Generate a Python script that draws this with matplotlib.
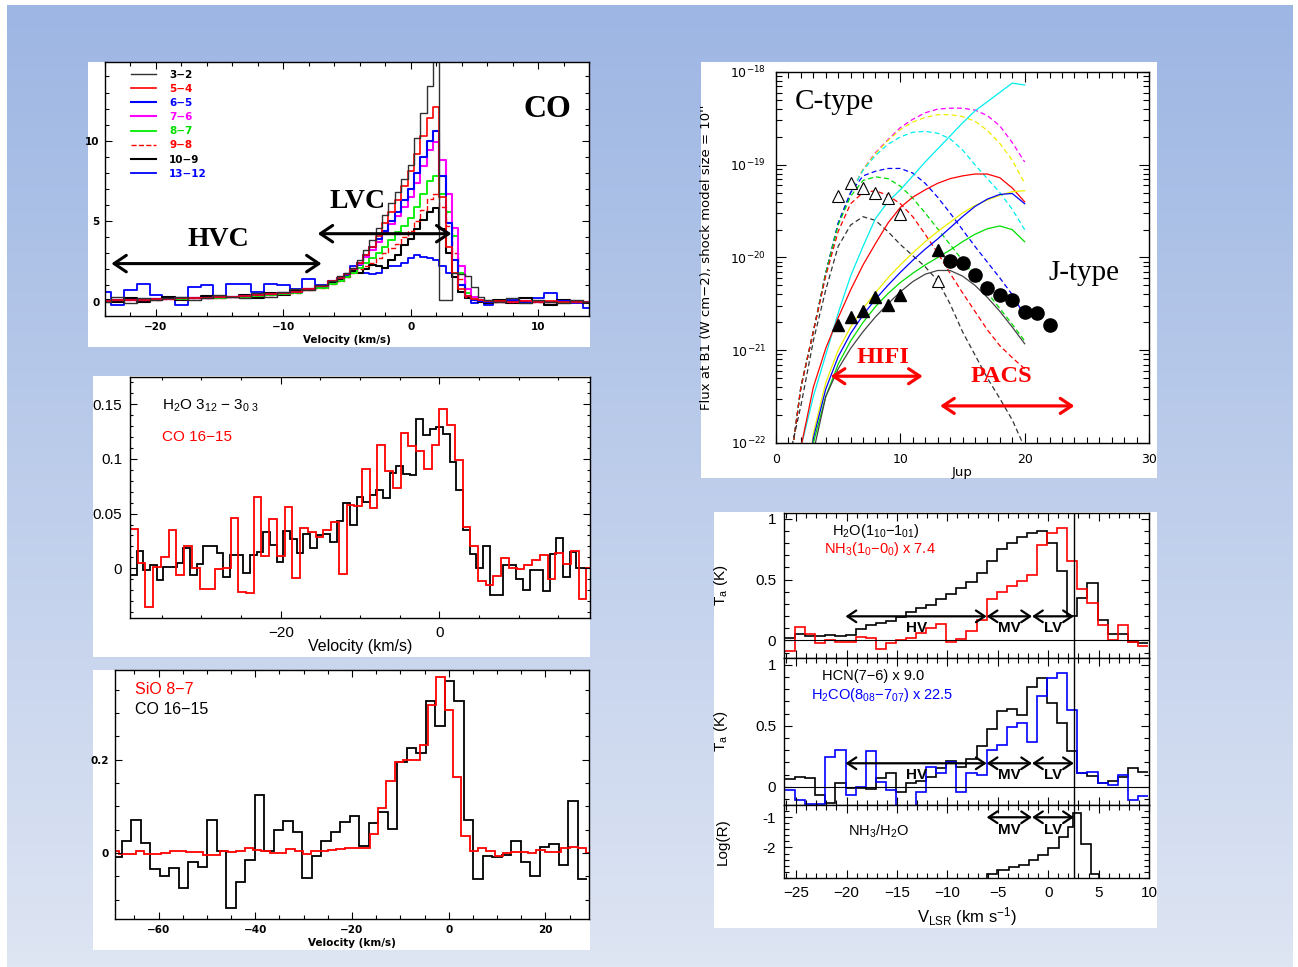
import numpy as np
import matplotlib.pyplot as plt
from matplotlib import ticker
from matplotlib.lines import Line2D

plt.rcParams['font.family'] = 'Liberation Sans'
plt.rcParams['mathtext.fontset'] = 'custom'
plt.rcParams['mathtext.rm'] = 'Liberation Sans'
plt.rcParams['mathtext.it'] = 'Liberation Sans:italic'
plt.rcParams['mathtext.bf'] = 'Liberation Sans:bold'
plt.rcParams['axes.linewidth'] = 1.0

W, H = 1298, 967

# ---------------- CO ladder (top left) ----------------
v_co = [-24, -23, -22, -21, -20, -19, -18, -17, -16, -15, -14, -13, -12, -11, -10, -9, -8, -7, -6,
        -5.5, -5, -4.5, -4, -3.5, -3, -2.5, -2, -1.5, -1, -0.5, 0, 0.5, 1, 1.5, 2, 2.5, 3, 3.5, 4, 4.5, 5, 5.5, 6,
        7, 8, 9, 10, 11, 12, 13, 14]
co_32 = [0.0, 0.3, -0.1, 0.2, 0.1, 0.2, 0.3, 0.1, 0.2, 0.4, 0.3, 0.2, 0.5, 0.3, 0.6, 0.8, 0.7, 1.0, 1.3,
         1.6, 1.8, 2.1, 2.6, 3.2, 3.8, 4.6, 5.4, 6.1, 6.8, 7.6, 8.5, 10.2, 11.7, 13.4, 16.0, 0.1, 0.1, 1.8, 1.7, 1.6, 0.9, 0.3, 0.1,
         0.0, 0.2, -0.1, 0.1, 0.0, -0.1, 0.1, 0.0]
co_54 = [0.05, 0.08, 0.1, 0.12, 0.15, 0.18, 0.2, 0.22, 0.25, 0.28, 0.3, 0.35, 0.4, 0.45, 0.5, 0.6, 0.75, 0.95, 1.25,
         1.45, 1.7, 2.0, 2.4, 2.9, 3.4, 4.1, 4.9, 5.6, 6.3, 7.2, 8.1, 9.2, 10.3, 11.4, 12.1, 6.5, 3.4, 1.8, 0.8, 0.35, 0.15, 0.1, 0.05,
         0.05, 0.0, 0.05, 0.0, 0.05, 0.0, 0.0, 0.0]
co_65 = [0.05, 0.08, 0.1, 0.12, 0.15, 0.18, 0.2, 0.22, 0.25, 0.28, 0.3, 0.35, 0.4, 0.45, 0.5, 0.6, 0.75, 0.95, 1.25,
         1.45, 1.7, 2.0, 2.4, 2.9, 3.4, 3.9, 4.4, 5.0, 5.6, 6.3, 7.0, 8.0, 9.0, 10.0, 10.6, 7.8, 4.9, 2.6, 1.0, 0.35, 0.1, 0.05, 0.0,
         0.0, 0.05, 0.0, -0.05, 0.0, 0.05, 0.0, 0.0]
co_76 = [0.05, 0.08, 0.1, 0.12, 0.15, 0.18, 0.2, 0.22, 0.25, 0.28, 0.3, 0.35, 0.4, 0.45, 0.5, 0.6, 0.75, 0.95, 1.25,
         1.45, 1.7, 2.0, 2.35, 2.8, 3.2, 3.7, 4.3, 4.8, 5.3, 5.9, 6.5, 7.4, 8.4, 9.4, 9.9, 8.8, 6.7, 4.6, 2.2, 0.8, 0.3, 0.1, 0.05,
         0.0, 0.0, 0.05, 0.0, 0.0, 0.05, 0.0, 0.0]
co_87 = [0.05, 0.07, 0.1, 0.1, 0.12, 0.15, 0.18, 0.2, 0.22, 0.25, 0.28, 0.3, 0.35, 0.4, 0.45, 0.55, 0.7, 0.85, 1.1,
         1.3, 1.5, 1.8, 2.1, 2.4, 2.7, 3.0, 3.4, 3.8, 4.3, 4.7, 5.2, 5.9, 6.7, 7.5, 7.8, 6.7, 5.6, 4.1, 1.8, 0.5, 0.2, 0.1, 0.05,
         0.0, 0.0, 0.0, 0.0, 0.0, 0.0, 0.0, 0.0]
co_98 = [0.05, 0.07, 0.1, 0.1, 0.12, 0.15, 0.18, 0.2, 0.22, 0.25, 0.28, 0.3, 0.35, 0.4, 0.45, 0.55, 0.7, 0.85, 1.1,
         1.3, 1.5, 1.75, 2.0, 2.2, 2.4, 2.7, 3.0, 3.3, 3.6, 4.0, 4.4, 5.0, 5.7, 6.4, 6.7, 5.9, 4.7, 3.0, 1.4, 0.3, 0.1, 0.05, 0.0,
         0.0, 0.0, 0.0, 0.0, 0.0, 0.0, 0.0, 0.0]
co_109 = [0.1, -0.05, 0.2, 0.0, 0.15, 0.3, 0.1, 0.2, 0.35, 0.2, 0.3, 0.4, 0.25, 0.5, 0.4, 0.7, 0.8, 0.9, 1.2,
          1.4, 1.5, 1.9, 1.8, 2.0, 2.3, 2.2, 2.1, 2.6, 2.9, 3.5, 3.9, 4.5, 5.1, 5.6, 5.8, 4.5, 3.0, 1.5, 0.6, 0.2, 0.1, 0.0, -0.1,
          0.1, -0.1, 0.2, 0.0, -0.2, 0.1, 0.0, -0.1]
co_1312 = [0.6, -0.2, 0.7, 1.1, 0.4, 0.3, -0.2, 0.9, 1.0, 0.3, 1.1, 1.1, 0.6, 1.1, 1.0, 0.8, 1.4, 1.0, 1.2,
           1.4, 1.6, 2.2, 2.3, 1.8, 1.7, 1.8, 2.1, 2.2, 2.2, 2.4, 2.7, 2.9, 2.8, 2.7, 2.6, 2.2, 1.8, 1.5, 0.6, 0.2, -0.1, 0.0, -0.2,
           0.0, 0.1, -0.1, 0.2, 0.5, 0.0, -0.1, -0.4]
co_labels = ['3\u22122', '5\u22124', '6\u22125', '7\u22126', '8\u22127', '9\u22128', '10\u22129', '13\u221212']

# ---------------- H2O 3_12-3_03 vs CO 16-15 (middle left) ----------------
h2o_v0, h2o_dv = -39.0, 0.84
h2o_312 = [-0.006, 0.016, -0.002, 0.003, -0.011, 0.001, 0.001, 0.005, 0.019, -0.006,
           0.004, 0.020, 0.020, 0.014, -0.008, 0.012, 0.012, -0.004, 0.012, 0.015,
           0.033, 0.021, 0.006, 0.034, 0.027, 0.014, 0.031, 0.019, 0.030, 0.031,
           0.024, 0.043, 0.060, 0.040, 0.065, 0.061, 0.067, 0.072, 0.064, 0.087,
           0.094, 0.086, 0.085, 0.137, 0.122, 0.127, 0.129, 0.123, 0.097, 0.072,
           0.035, 0.013, 0.000, 0.020, -0.024, -0.024, 0.003, 0.003, -0.010, -0.020,
           -0.002, -0.002, -0.021, 0.013, 0.028, -0.008, 0.015, 0.000, 0.000]
co16a_v0, co16a_dv = -39.0, 0.975
co1615_a = [0.036, 0.005, -0.035, 0.001, 0.010, 0.035, -0.006, 0.020, 0.000, -0.019,
            -0.019, -0.001, 0.000, 0.046, -0.022, -0.023, 0.065, 0.011, 0.045, 0.011,
            0.056, -0.009, 0.037, 0.033, 0.029, 0.035, 0.042, -0.005, 0.058, 0.057,
            0.091, 0.055, 0.113, 0.089, 0.073, 0.124, 0.112, 0.107, 0.091, 0.113,
            0.146, 0.131, 0.099, 0.038, 0.020, -0.012, -0.015, -0.007, 0.009, 0.000,
            -0.001, 0.003, 0.008, 0.012, -0.010, 0.014, 0.004, 0.016, -0.028, 0.000]

# ---------------- SiO 8-7 vs CO 16-15 (bottom left) ----------------
co16b_v0, co16b_dv = -69.55, 1.963
co1615_b = [-0.009, 0.025, 0.071, 0.021, -0.034, -0.049, -0.032, -0.075, -0.019, -0.029,
            0.071, 0.004, -0.118, -0.062, -0.014, 0.124, 0.004, 0.050, 0.068, 0.045,
            -0.054, -0.007, 0.026, 0.045, 0.066, 0.079, 0.016, 0.064, 0.088, 0.051,
            0.194, 0.225, 0.214, 0.326, 0.273, 0.368, 0.326, 0.071, -0.055, -0.007,
            -0.009, -0.004, 0.025, -0.018, -0.049, 0.013, 0.020, -0.025, 0.111, -0.055]
sio_v0, sio_dv = -69.8, 1.724
sio87 = [0.005, -0.002, -0.002, 0.004, -0.001, -0.002, 0.001, 0.004, 0.005, 0.002,
         0.002, -0.005, -0.005, 0.004, 0.002, 0.005, 0.011, 0.007, 0.004, 0.000,
         0.001, 0.009, 0.004, -0.001, 0.004, 0.004, 0.006, 0.009, 0.010, 0.012,
         0.012, 0.041, 0.096, 0.154, 0.195, 0.199, 0.200, 0.232, 0.318, 0.376,
         0.307, 0.164, 0.036, 0.004, 0.011, 0.004, -0.007, 0.001, 0.003, 0.002,
         0.001, 0.006, 0.002, 0.002, 0.012, 0.013, 0.010, 0.000]

# ---------------- shock models (top right), log10 flux vs Jup ----------------
j_up = [1, 2, 3, 4, 5, 6, 7, 8, 9, 10, 11, 12, 13, 14, 15, 16, 17, 18, 19, 20]
ctype = {
    'magenta': [-22.4, -21.4, -20.8, -20.17, -19.63, -19.3, -19.05, -18.87, -18.73, -18.6, -18.51, -18.44, -18.4, -18.39, -18.39, -18.41, -18.47, -18.58, -18.76, -18.97],
    '#eeee00': [-22.4, -21.4, -20.8, -20.17, -19.63, -19.3, -19.05, -18.88, -18.74, -18.62, -18.54, -18.49, -18.46, -18.46, -18.48, -18.53, -18.63, -18.77, -18.95, -19.2],
    '#00eeee': [-22.4, -21.4, -20.8, -20.17, -19.63, -19.3, -19.06, -18.9, -18.78, -18.7, -18.65, -18.64, -18.66, -18.72, -18.84, -19.0, -19.15, -19.3, -19.48, -19.7],
    'blue': [-22.4, -21.4, -20.8, -20.17, -19.63, -19.3, -19.12, -19.07, -19.04, -19.04, -19.09, -19.2, -19.35, -19.52, -19.7, -19.88, -20.05, -20.22, -20.4, -20.63],
    '#00dd00': [-22.4, -21.4, -20.8, -20.17, -19.65, -19.34, -19.17, -19.13, -19.15, -19.23, -19.36, -19.52, -19.69, -19.86, -20.03, -20.2, -20.38, -20.55, -20.72, -20.9],
    'red': [-22.4, -21.4, -20.8, -20.2, -19.72, -19.42, -19.3, -19.28, -19.33, -19.42, -19.56, -19.75, -19.95, -20.17, -20.38, -20.58, -20.78, -20.95, -21.08, -21.2],
    '#333333': [-22.2, -21.6, -20.9, -20.35, -19.88, -19.65, -19.56, -19.6, -19.72, -19.86, -19.98, -20.1, -20.25, -20.5, -20.8, -21.05, -21.3, -21.52, -21.75, -22.05],
}
jtype = {
    '#00eeee': [-23.5, -22.05, -21.5, -21.05, -20.6, -20.2, -19.88, -19.58, -19.4, -19.27, -19.12, -18.97, -18.83, -18.69, -18.55, -18.42, -18.32, -18.22, -18.12, -18.14],
    'red': [-23.5, -22.05, -21.4, -20.98, -20.65, -20.35, -20.08, -19.85, -19.63, -19.46, -19.35, -19.27, -19.2, -19.15, -19.12, -19.1, -19.1, -19.14, -19.25, -19.4],
    '#eeee00': [-24.0, -23.0, -21.9, -21.35, -21.0, -20.75, -20.55, -20.38, -20.22, -20.08, -19.95, -19.83, -19.72, -19.62, -19.52, -19.44, -19.38, -19.33, -19.29, -19.28],
    'blue': [-24.0, -23.1, -21.95, -21.42, -21.07, -20.82, -20.62, -20.45, -20.3, -20.16, -20.03, -19.91, -19.8, -19.68, -19.56, -19.45, -19.37, -19.32, -19.31, -19.42],
    '#00dd00': [-24.0, -23.2, -22.0, -21.5, -21.15, -20.9, -20.7, -20.53, -20.39, -20.27, -20.17, -20.08, -20.0, -19.92, -19.83, -19.75, -19.69, -19.66, -19.7, -19.83],
    '#444444': [-24.0, -23.3, -22.1, -21.5, -21.2, -20.98, -20.8, -20.64, -20.5, -20.37, -20.26, -20.18, -20.14, -20.14, -20.2, -20.3, -20.43, -20.58, -20.75, -20.93],
}
tri_j = [5, 6, 7, 8, 9, 10, 13]
tri_open = [-19.34, -19.20, -19.25, -19.30, -19.36, -19.53, -20.25]
tri_fill = [-20.73, -20.64, -20.58, -20.43, -20.51, -20.40, -19.92]
pacs_j = [14, 15, 16, 17, 18, 19, 20, 21, 22]
pacs_f = [-20.04, -20.06, -20.19, -20.33, -20.40, -20.46, -20.59, -20.60, -20.73]
flux_decades = [1e-22, 1e-21, 1e-20, 1e-19, 1e-18]

# ---------------- HIFI spectra (bottom right) ----------------
hifi_v0, hifi_dv = -26.1, 1.0
h2o_110 = [0.02, 0.05, 0.04, 0.04, 0.045, 0.04, 0.047, 0.09, 0.13, 0.14,
           0.16, 0.19, 0.23, 0.27, 0.29, 0.34, 0.38, 0.43, 0.48, 0.55,
           0.65, 0.75, 0.80, 0.85, 0.88, 0.90, 0.80, 0.57, 0.20, 0.35,
           0.47, 0.17, 0.05, 0.05, -0.01, -0.02]
nh3_10 = [-0.09, 0.11, 0.05, -0.02, 0.0, -0.01, -0.01, 0.03, 0.02, -0.07,
          -0.02, 0.0, 0.02, 0.065, 0.10, 0.135, -0.015, 0.01, 0.075, 0.165,
          0.34, 0.40, 0.445, 0.49, 0.54, 0.78, 0.88, 0.92, 0.65, 0.42,
          0.31, 0.13, 0.005, 0.13, -0.01, -0.045]
hcn76 = [0.06, 0.08, 0.07, -0.07, -0.13, 0.03, -0.01, -0.01, -0.02, 0.07,
         0.11, -0.04, 0.03, 0.05, 0.08, 0.15, 0.21, 0.16, 0.23, 0.33,
         0.47, 0.62, 0.64, 0.59, 0.82, 0.89, 0.69, 0.52, 0.29, 0.11,
         0.09, 0.03, 0.05, 0.08, 0.15, 0.12]
h2co = [-0.03, -0.11, -0.14, -0.14, 0.24, 0.30, -0.07, 0.0, 0.29, 0.04,
        -0.03, -0.17, -0.17, -0.04, 0.165, 0.11, 0.2, -0.04, 0.11, 0.10,
        0.30, 0.34, 0.49, 0.52, 0.37, 0.74, 0.89, 0.93, 0.63, 0.11,
        0.12, 0.03, 0.01, 0.10, -0.11, -0.08]
logr_edges = [-7.1, -6.1, -5.1, -3.9, -2.9, -1.9, -1.0, 0.0, 1.1, 2.0, 2.5, 3.3, 4.2, 5.0, 6.0]
logr = [-3.3, -2.87, -2.76, -2.66, -2.57, -2.41, -2.24, -2.02, -1.64, -1.31, -0.85, -1.89, -2.87, -3.3]
v_sys = 2.6
regions = [('HV', -20.1, -6.1), ('MV', -6.1, -1.6), ('LV', -1.6, 2.55)]


def edges(v0, dv, vals):
    return v0 + dv * np.arange(len(vals) + 1)


fig = plt.figure(figsize=(W / 100, H / 100), dpi=100)

# background gradient and white boxes
bg = fig.add_axes([0, 0, 1, 1])
bg.set_zorder(-1)
bg.set_xlim(0, W)
bg.set_ylim(H, 0)
bg.axis('off')
top_c = np.array([157, 182, 227]) / 255
bot_c = np.array([222, 229, 243]) / 255
frac = np.linspace(0, 1, 256)[:, None, None]
bg.imshow(top_c + (bot_c - top_c) * frac, extent=(7, 1293, 967, 5), aspect='auto', origin='upper')
for x0, y0, x1, y1 in [(88, 62, 590, 347), (93, 376, 590, 657), (93, 670, 590, 950),
                       (701, 62, 1157, 478), (714, 512, 1157, 928)]:
    bg.add_patch(plt.Rectangle((x0, y0), x1 - x0, y1 - y0, facecolor='white', edgecolor='none'))


def add_axes(l, t, r, b):
    ax = fig.add_axes([l / W, 1 - b / H, (r - l) / W, (b - t) / H])
    ax.set_facecolor('white')
    return ax


def style(ax, size, family, weight='normal', major=5, minor=2.5, pad=3.5):
    ax.tick_params(which='both', direction='in', top=True, right=True, width=0.8, pad=pad, labelsize=size)
    ax.tick_params(which='major', length=major)
    ax.tick_params(which='minor', length=minor)
    for lab in ax.get_xticklabels() + ax.get_yticklabels():
        lab.set_fontfamily(family)
        lab.set_fontweight(weight)


# ===== panel 1: CO ladder =====
ax1 = add_axes(105, 62, 589, 316)
co_style = [(co_32, '#303030', 1.0, '-'), (co_54, 'red', 1.2, '-'), (co_65, 'blue', 1.5, '-'),
            (co_76, 'magenta', 1.5, '-'), (co_87, '#00ee00', 1.3, '-'), (co_98, 'red', 1.0, '--'),
            (co_109, 'black', 1.5, '-'), (co_1312, 'blue', 1.3, '-')]
for vals, c, lw, ls in reversed(co_style):
    ax1.plot(v_co, vals, drawstyle='steps-mid', color=c, lw=lw, ls=ls)
ax1.set_xlim(-24, 14)
ax1.set_ylim(-0.9, 14.9)
ax1.set_xticks([-20, -10, 0, 10])
ax1.set_yticks([0, 5, 10])
ax1.xaxis.set_minor_locator(ticker.MultipleLocator(2))
ax1.yaxis.set_minor_locator(ticker.MultipleLocator(1))
style(ax1, 7.5, 'DejaVu Sans', 'bold', major=5, minor=3, pad=4)
ax1.set_xlabel('Velocity (km/s)', fontsize=7.5, fontweight='bold', fontfamily='DejaVu Sans')
ax1.xaxis.set_label_coords(0.5, -0.075)
ax1.xaxis.label.set_va('top')
handles = [Line2D([], [], color=c, lw=lw, ls=ls) for _, c, lw, ls in co_style]
text_cols = ['black', 'red', 'blue', 'magenta', '#00dd00', 'red', 'black', 'blue']
leg = ax1.legend(handles, co_labels, loc='upper left', bbox_to_anchor=(0.053, 0.97), frameon=False,
                 handlelength=2.4, handletextpad=1.3, labelspacing=0.4, borderaxespad=0, borderpad=0,
                 prop={'family': 'DejaVu Sans', 'weight': 'bold', 'size': 7.5})
for t, c in zip(leg.get_texts(), text_cols):
    t.set_color(c)
arrow_big = dict(arrowstyle='<->,head_length=0.4,head_width=0.27', color='black', lw=2.2,
                 mutation_scale=22, shrinkA=0, shrinkB=0)
ax1.annotate('', xy=(-7.0, 2.36), xytext=(-23.5, 2.36), arrowprops=arrow_big)
ax1.annotate('', xy=(3.2, 4.22), xytext=(-7.3, 4.22), arrowprops=arrow_big)
serif_b = dict(fontfamily='Liberation Serif', fontweight='bold', ha='center', va='center')
ax1.text(-15.1, 3.85, 'HVC', fontsize=20, **serif_b)
ax1.text(-4.15, 6.23, 'LVC', fontsize=20, **serif_b)
ax1.text(10.7, 11.97, 'CO', fontsize=23, **serif_b)

# ===== panel 2: H2O vs CO 16-15 =====
ax2 = add_axes(130, 377, 590, 618)
ax2.stairs(h2o_312, edges(h2o_v0, h2o_dv, h2o_312), baseline=None, color='black', lw=1.3)
ax2.stairs(co1615_a, edges(co16a_v0, co16a_dv, co1615_a), baseline=None, color='red', lw=1.3)
ax2.set_xlim(-39, 19)
ax2.set_ylim(-0.0455, 0.175)
ax2.xaxis.set_major_locator(ticker.MultipleLocator(20))
ax2.xaxis.set_minor_locator(ticker.MultipleLocator(5))
ax2.yaxis.set_major_locator(ticker.MultipleLocator(0.05))
ax2.yaxis.set_minor_locator(ticker.MultipleLocator(0.01))
ax2.yaxis.set_major_formatter(ticker.FormatStrFormatter('%g'))
style(ax2, 11, 'Liberation Sans', major=5, minor=2.5, pad=5.5)
ax2.set_xlabel('Velocity (km/s)', fontsize=11.5)
ax2.xaxis.set_label_coords(0.5, -0.088)
ax2.xaxis.label.set_va('top')
ax2.text(-35.0, 0.149, 'H$_2$O 3$_{12}$ \u2212 3$_{0\\ 3}$', fontsize=11, va='center')
ax2.text(-35.0, 0.120, 'CO 16\u221215', fontsize=11, va='center', color='red')

# ===== panel 3: SiO vs CO 16-15 =====
ax3 = add_axes(115, 670, 589, 919)
ax3.stairs(co1615_b, edges(co16b_v0, co16b_dv, co1615_b), baseline=None, color='black', lw=1.3)
ax3.stairs(sio87, edges(sio_v0, sio_dv, sio87), baseline=None, color='red', lw=1.3)
ax3.set_xlim(-69, 29)
ax3.set_ylim(-0.141, 0.392)
ax3.xaxis.set_major_locator(ticker.MultipleLocator(20))
ax3.xaxis.set_minor_locator(ticker.MultipleLocator(5))
ax3.yaxis.set_major_locator(ticker.MultipleLocator(0.2))
ax3.yaxis.set_minor_locator(ticker.MultipleLocator(0.05))
ax3.yaxis.set_major_formatter(ticker.FormatStrFormatter('%g'))
style(ax3, 7.5, 'DejaVu Sans', 'bold', major=5, minor=3, pad=4.5)
ax3.set_xlabel('Velocity (km/s)', fontsize=7.5, fontweight='bold', fontfamily='DejaVu Sans')
ax3.xaxis.set_label_coords(0.5, -0.076)
ax3.xaxis.label.set_va('top')
ax3.text(-64.8, 0.350, 'SiO 8\u22127', fontsize=11.5, va='center', color='red')
ax3.text(-64.8, 0.307, 'CO 16\u221215', fontsize=11.5, va='center')

# ===== panel 4: shock models =====
ax4 = add_axes(776, 72, 1149, 443)
for c, vals in ctype.items():
    ax4.plot(j_up, 10.0 ** np.array(vals), color=c, lw=0.9, dashes=(4, 2.5))
for c, vals in jtype.items():
    ax4.plot(j_up, 10.0 ** np.array(vals), color=c, lw=0.9)
ax4.plot(tri_j, 10.0 ** np.array(tri_open), '^', ms=8, mfc='white', mec='black', mew=0.8)
ax4.plot(tri_j, 10.0 ** np.array(tri_fill), '^', ms=8, color='black')
ax4.plot(pacs_j, 10.0 ** np.array(pacs_f), 'o', ms=9.5, color='black')
ax4.set_yscale('log')
ax4.set_xlim(0, 30)
ax4.set_ylim(1e-22, 1e-18)
ax4.set_xticks([0, 10, 20, 30])
ax4.xaxis.set_minor_locator(ticker.MultipleLocator(1))
ax4.yaxis.set_major_locator(ticker.FixedLocator(flux_decades))
ax4.yaxis.set_minor_locator(ticker.FixedLocator(
    [m * d for d in flux_decades[:-1] for m in range(2, 10)]))
ax4.yaxis.set_minor_formatter(ticker.NullFormatter())
ax4.yaxis.set_major_formatter(ticker.LogFormatterSciNotation())
style(ax4, 9, 'DejaVu Sans', major=7, minor=4, pad=7)
ax4.set_ylabel("Flux at B1 (W cm\u22122), shock model size = 10''", fontsize=9.5, fontfamily='DejaVu Sans')
ax4.yaxis.set_label_coords(-0.168, 0.5)
ax4.set_xlabel('Jup', fontsize=9.5, fontfamily='DejaVu Sans')
ax4.xaxis.set_label_coords(0.5, -0.062)
ax4.xaxis.label.set_va('top')
ax4.text(1.5, 10 ** -18.32, 'C-type', fontsize=21, fontfamily='Liberation Serif', va='center')
ax4.text(21.9, 10 ** -20.17, 'J-type', fontsize=21, fontfamily='Liberation Serif', va='center')
ax4.text(8.6, 10 ** -21.08, 'HIFI', fontsize=17.5, color='red', **serif_b)
ax4.text(18.1, 10 ** -21.28, 'PACS', fontsize=17.5, color='red', **serif_b)
arrow_red = dict(arrowstyle='<->,head_length=0.45,head_width=0.3', color='red', lw=2.3,
                 mutation_scale=18, shrinkA=0, shrinkB=0)
ax4.annotate('', xy=(11.8, 10 ** -21.28), xytext=(4.4, 10 ** -21.28), arrowprops=arrow_red)
ax4.annotate('', xy=(24.0, 10 ** -21.6), xytext=(13.2, 10 ** -21.6), arrowprops=arrow_red)

# ===== panel 5: HIFI line profiles =====
ax5a = add_axes(784, 513, 1149, 658)
ax5b = add_axes(784, 658, 1149, 805)
ax5c = add_axes(784, 805, 1149, 878)
ax5a.stairs(h2o_110, edges(hifi_v0, hifi_dv, h2o_110), baseline=None, color='black', lw=1.2)
ax5a.stairs(nh3_10, edges(hifi_v0, hifi_dv, nh3_10), baseline=None, color='red', lw=1.2)
ax5b.stairs(hcn76, edges(hifi_v0, hifi_dv, hcn76), baseline=None, color='black', lw=1.2)
ax5b.stairs(h2co, edges(hifi_v0, hifi_dv, h2co), baseline=None, color='blue', lw=1.2)
ax5c.stairs(logr, logr_edges, baseline=None, color='black', lw=1.2)
ax5a.set_ylim(-0.144, 1.046)
ax5b.set_ylim(-0.150, 1.055)
ax5c.set_ylim(-3.01, -0.594)
arrow_small = dict(arrowstyle='<->,head_length=0.45,head_width=0.3', color='black', lw=1.6,
                   mutation_scale=14, shrinkA=0, shrinkB=0)
for ax, ya, yt, regs in [(ax5a, 0.198, 0.10, regions), (ax5b, 0.192, 0.096, regions),
                         (ax5c, -1.0, -1.42, regions[1:])]:
    ax.set_xlim(-26.2, 10)
    ax.axvline(v_sys, color='black', lw=1.0)
    ax.xaxis.set_major_locator(ticker.MultipleLocator(5))
    ax.xaxis.set_minor_locator(ticker.MultipleLocator(1))
    ax.yaxis.set_major_formatter(ticker.FormatStrFormatter('%g'))
    for name, x0, x1 in regs:
        ax.annotate('', xy=(x1, ya), xytext=(x0, ya), arrowprops=arrow_small)
        ax.text((x0 + x1) / 2 if name != 'HV' else -13.1, yt, name, fontsize=11, fontweight='bold',
                ha='center', va='center')
for ax in (ax5a, ax5b):
    ax.axhline(0, color='black', lw=0.8)
    ax.yaxis.set_major_locator(ticker.FixedLocator([0, 0.5, 1]))
    ax.yaxis.set_minor_locator(ticker.MultipleLocator(0.1))
    ax.tick_params(labelbottom=False)
    ax.set_ylabel(r'T$_\mathrm{a}$ (K)', fontsize=11)
    ax.yaxis.set_label_coords(-0.148, 0.5)
ax5c.yaxis.set_major_locator(ticker.FixedLocator([-2, -1]))
ax5c.yaxis.set_minor_locator(ticker.MultipleLocator(0.2))
ax5c.set_ylabel('Log(R)', fontsize=11)
ax5c.yaxis.set_label_coords(-0.148, 0.5)
for ax in (ax5a, ax5b, ax5c):
    style(ax, 11, 'Liberation Sans', major=6, minor=3.5, pad=5.5)
ax5c.set_xlabel(r'V$_\mathrm{LSR}$ (km s$^{-1}$)', fontsize=12)
ax5c.xaxis.set_label_coords(0.5, -0.37)
ax5c.xaxis.label.set_va('top')
ax5a.text(-21.4, 0.90, r'H$_2$O(1$_{10}$$-$1$_{01}$)', fontsize=10.5, va='center')
ax5a.text(-22.2, 0.75, r'NH$_3$(1$_0$$-$0$_0$) x 7.4', fontsize=10.5, va='center', color='red')
ax5b.text(-22.4, 0.907, 'HCN(7\u22126) x 9.0', fontsize=10.5, va='center')
ax5b.text(-23.5, 0.755, r'H$_2$CO(8$_{08}$$-$7$_{07}$) x 22.5', fontsize=10.5, va='center', color='blue')
ax5c.text(-19.9, -1.47, r'NH$_3$/H$_2$O', fontsize=10.5, va='center')

fig.savefig('out.png', dpi=100)
